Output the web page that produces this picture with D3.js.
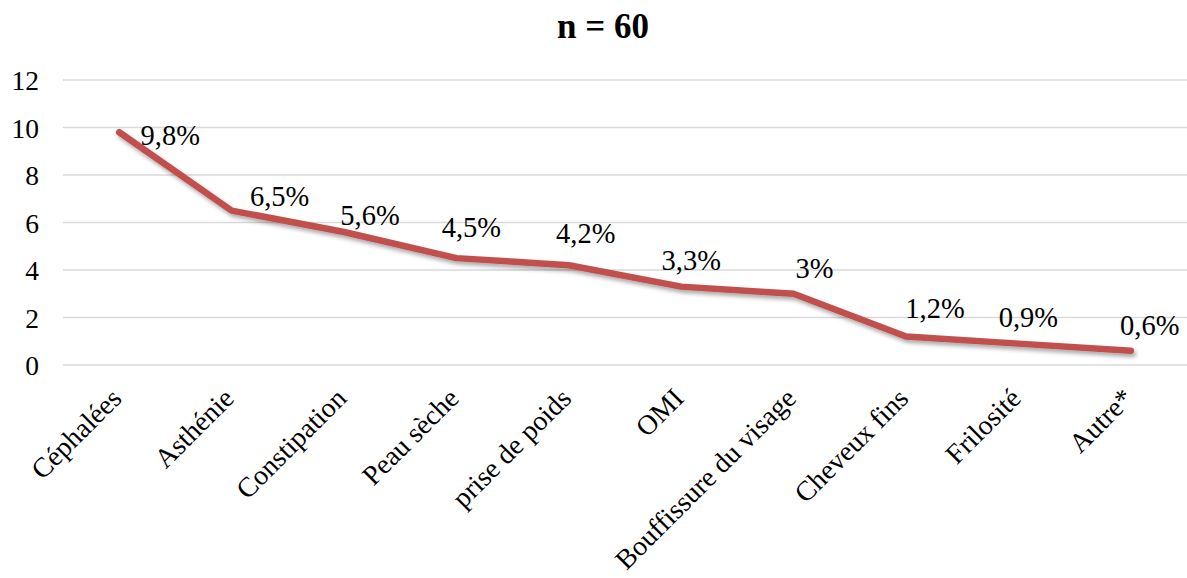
<!DOCTYPE html>
<html>
<head>
<meta charset="utf-8">
<script src="https://cdn.jsdelivr.net/npm/d3@7"></script>
<style>
  html, body { margin: 0; padding: 0; background: #fff; }
  svg { display: block; }
  text { font-family: "Liberation Serif", "Times New Roman", serif; fill: #000; }
</style>
</head>
<body>
<svg id="chart" width="1187" height="578"></svg>
<script>
// Symptom categories and their share (%)
const categories = ["Céphalées", "Asthénie", "Constipation", "Peau sèche", "prise de poids",
                    "OMI", "Bouffissure du visage", "Cheveux fins", "Frilosité", "Autre*"];
const values = [9.8, 6.5, 5.6, 4.5, 4.2, 3.3, 3, 1.2, 0.9, 0.6];
const valueLabels = ["9,8%", "6,5%", "5,6%", "4,5%", "4,2%", "3,3%", "3%", "1,2%", "0,9%", "0,6%"];
const yTicks = [0, 2, 4, 6, 8, 10, 12];
const title = "n = 60";

// Hand-placed offsets of each value label from its point (px)
const labelNudge = [[51, 3], [48, -15], [26, -17], [15, -31], [17, -32],
                    [10, -27], [21, -26], [29, -28], [10, -27], [19, -26]];

const W = 1187, H = 578;
const plot = { left: 63, right: 1187, top: 80, bottom: 365 };
const serif = "Liberation Serif, Times New Roman, serif";

const svg = d3.select("#chart");

const defs = svg.append("defs");
const f = defs.append("filter").attr("id", "shadow")
  .attr("x", "-5%").attr("y", "-20%").attr("width", "110%").attr("height", "140%");
f.append("feDropShadow").attr("dx", 2).attr("dy", 3).attr("stdDeviation", 2)
  .attr("flood-color", "#000").attr("flood-opacity", 0.35);

const x = d3.scaleBand().domain(categories).range([plot.left, plot.right]).padding(0);
const y = d3.scaleLinear().domain([0, 12]).range([plot.bottom, plot.top]);
const cx = d => x(d) + x.bandwidth() / 2;

// Horizontal gridlines
svg.append("g").selectAll("line").data(yTicks).join("line")
  .attr("x1", plot.left).attr("x2", plot.right)
  .attr("y1", d => y(d)).attr("y2", d => y(d))
  .attr("stroke", "#d9d9d9").attr("stroke-width", 1.5);

// Y axis labels
const yAxis = d3.axisLeft(y).tickValues(yTicks).tickSize(0).tickPadding(0);
const gy = svg.append("g").attr("transform", `translate(${plot.left - 24},0)`).call(yAxis);
gy.select(".domain").remove();
gy.selectAll("text").attr("font-size", 27.5).attr("font-family", serif)
  .attr("fill", "#000").attr("dy", "0.35em");

// X axis labels, rotated
const xAxis = d3.axisBottom(x).tickSize(0).tickPadding(0);
const gx = svg.append("g").attr("transform", `translate(0,${plot.bottom})`).call(xAxis);
gx.select(".domain").remove();
gx.selectAll("text")
  .attr("font-size", 27.8).attr("font-family", serif).attr("fill", "#000")
  .attr("text-anchor", "end")
  .attr("y", 0).attr("dy", 0)
  .attr("transform", "translate(4,35) rotate(-45)");

// Line
const line = d3.line().x((d, i) => cx(categories[i])).y(d => y(d));
svg.append("path").datum(values)
  .attr("d", line)
  .attr("fill", "none")
  .attr("stroke", "#C0504D")
  .attr("stroke-width", 6.5)
  .attr("stroke-linecap", "round")
  .attr("stroke-linejoin", "round")
  .attr("filter", "url(#shadow)");

// Value labels
svg.append("g").selectAll("text").data(values).join("text")
  .attr("x", (d, i) => cx(categories[i]) + labelNudge[i][0])
  .attr("y", (d, i) => y(d) + labelNudge[i][1])
  .attr("dy", "0.35em")
  .attr("text-anchor", "middle")
  .attr("font-family", serif)
  .attr("font-size", 28.5)
  .text((d, i) => valueLabels[i]);

// Title
svg.append("text").attr("x", 603).attr("y", 38)
  .attr("text-anchor", "middle").attr("font-size", 35).attr("font-weight", "bold")
  .attr("font-family", serif)
  .text(title);
</script>
</body>
</html>
